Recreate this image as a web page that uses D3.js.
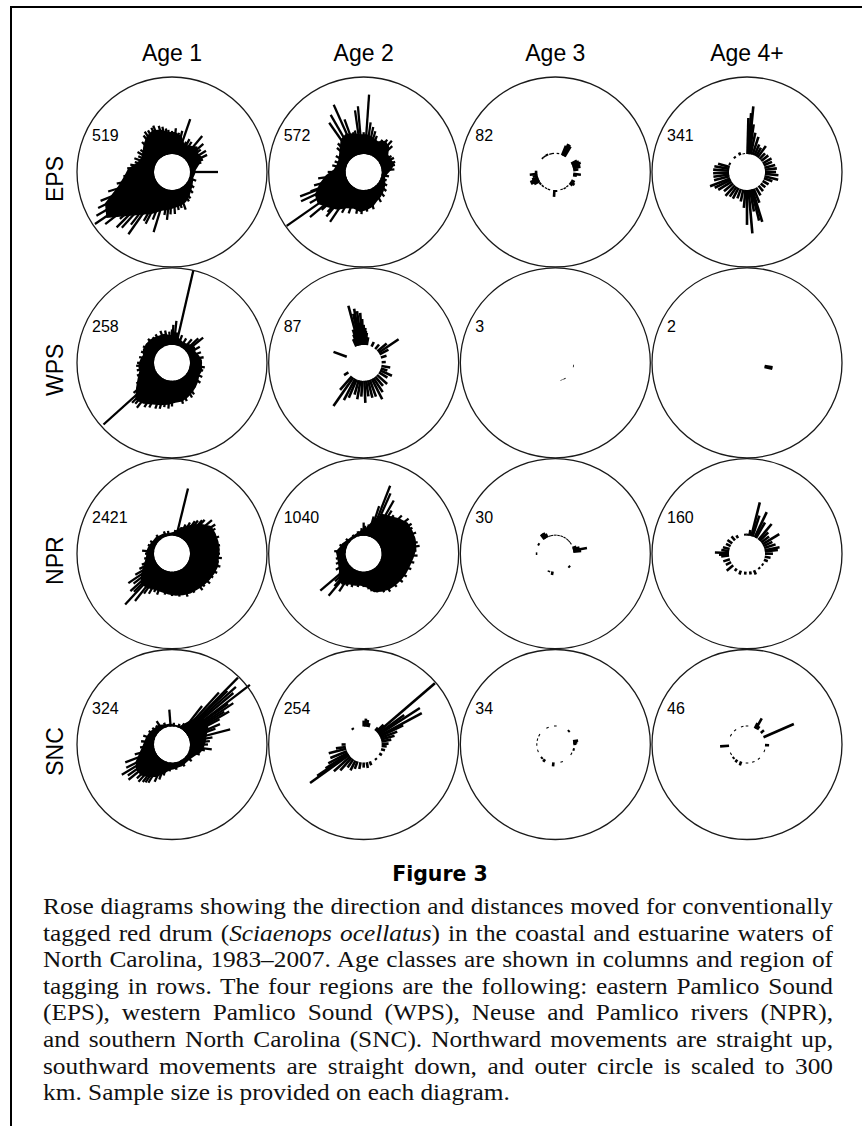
<!DOCTYPE html>
<html><head><meta charset="utf-8">
<script src="https://cdn.jsdelivr.net/npm/d3@7"></script>
<style>html,body{margin:0;padding:0;background:#fff}</style>
</head><body>
<svg id="chart" width="862" height="1126" xmlns="http://www.w3.org/2000/svg"></svg>
<script>
// ---------- categories ----------
const ages = ["Age 1", "Age 2", "Age 3", "Age 4+"];
const regions = ["EPS", "WPS", "NPR", "SNC"];
// sample sizes per region (Age 1, Age 2, Age 3, Age 4+)
const epsN = [519, 572, 82, 341];
const wpsN = [258, 87, 3, 2];
const nprN = [2421, 1040, 30, 160];
const sncN = [324, 254, 34, 46];

// ---------- dense cores: distance (km) reached by the solid mass in 10-degree direction bins (0-10, 10-20, ... clockwise from north)
const eps1Body = [86,74,47,55,70,55,62,39,23,20,16,20,27,35,47,59,66,70,78,86,109,133,172,242,218,148,117,101,70,62,70,86,101,109,101,86];
const eps2Body = [78,70,62,78,70,47,47,55,39,23,16,23,31,39,47,55,70,78,86,78,86,109,125,148,140,109,78,47,39,39,47,62,86,94,86,78];
const wps1Body = [39,31,23,23,31,39,31,39,47,47,51,47,55,62,70,78,86,86,94,101,109,125,133,101,78,62,62,55,47,55,55,55,51,47,47,39];
const npr1Body = [16,31,47,70,94,117,117,117,117,113,117,113,109,105,101,101,98,94,90,86,86,94,101,78,55,39,31,31,27,23,20,20,16,16,12,12];
const npr2Body = [31,62,101,109,125,140,140,140,136,125,117,113,109,105,101,94,86,62,55,59,62,78,70,47,39,35,35,39,27,23,16,12,12,12,16,23];
const snc1Body = [8,8,12,39,86,94,86,70,62,55,47,31,23,20,20,23,23,27,31,47,70,86,101,101,86,62,47,39,35,31,27,23,23,16,12,12];

// ---------- individual movements: [direction (deg clockwise from north), distance (km)]
const eps1Spikes = [[19,148],[40,113],[48,94],[58,86],[64,82],[90,109],[197,175],[215,226],[228,203],[236,292],[244,250],[207,156],[222,222],[186,117],[176,94],[160,86],[338,125],[344,117],[330,117],[352,101],[5,101],[290,86],[275,105],
  [355,95],[0,90],[10,85],[14,95],[25,60],[28,75],[33,70],[52,72],[68,60],[72,50],[110,30],[125,35],[135,45],[145,55],[150,62],[165,75],[170,80],[182,95],[190,100],[202,130],[210,150],[218,190],[225,235],[232,260],[240,270],[248,230],[253,190],[258,150],[265,120],[280,95],[285,80],[295,75],[300,85],[305,80],[315,95],[322,110],[326,120],[335,120],[348,110]];
const eps2Spikes = [[4,232],[355,187],[352,172],[336,217],[330,187],[325,164],[340,148],[8,125],[12,109],[36,86],[42,94],[214,164],[220,156],[235,296],[230,203],[245,199],[249,195],[240,172],[262,109],[200,101],[183,94],[72,59],[77,55],
  [0,85],[348,95],[345,90],[318,80],[312,70],[300,55],[290,50],[282,55],[270,70],[255,130],[250,150],[228,150],[222,140],[208,110],[190,95],[175,85],[165,80],[150,65],[140,55],[130,45],[120,35],[110,25],[100,30],[85,50],[65,60],[60,55],[48,80],[30,75],[20,80],[16,95]];
const eps3Spikes = [[22,40],[25,50],[28,50],[31,45],[62,25],[66,30],[70,35],[74,30],[78,30],[84,20],[96,30],[100,15],[118,15],[124,20],[128,15],[183,27],[178,8],[240,25],[244,35],[248,35],[252,25],[258,20],[264,30],[270,10],[318,6],[326,6],[334,8],[345,5],[352,5],[8,5],[140,5],[150,6],[160,4],[200,5],[210,5],[222,6],[232,8]];
const eps4Spikes = [[1.5,140],[4,160],[5.5,187],[8,117],[12,86],[18,74],[24,47],[30,39],[36,55],[44,31],[52,35],[61,39],[68,35],[76,43],[83,47],[90,43],[96,53],[104,55],[110,35],[120,27],[130,23],[140,27],[150,35],[158,59],[163,133],[166,125],[170,86],[175,170],[180,136],[185,70],[192,47],[200,39],[208,47],[215,47],[222,55],[230,47],[238,62],[244,70],[249,84],[256,62],[262,62],[268,62],[274,62],[280,59],[286,47],[295,8],[320,8],[338,12],[350,4]];
const wps1Spikes = [[13,300],[228,289],[6,94],[2,78],[348,59],[340,62],[323,55],[306,55],[270,66],[265,70],[218,152],[222,144],[212,133],[207,125],[184.5,109],[190,105],[173,78],[159,90],[150,86],[137,62],[104,55],[90,47],[51,86],[47,70],[60,55],[98,59],
  [0,60],[10,50],[20,45],[30,40],[40,50],[70,50],[80,55],[115,60],[125,65],[145,80],[165,95],[180,100],[195,115],[200,120],[225,150],[232,120],[240,90],[250,75],[258,70],[280,60],[290,58],[300,60],[315,62],[330,58],[355,52]];
const wps2Spikes = [[345,160],[348,125],[350,144],[352.7,133],[356,125],[358,101],[2.7,66],[6,47],[10,31],[340,47],[342,66],[354,86],[0,78],[4,55],[336,31],[26,20],[40,23],[50,47],[56,94],[62,39],[73,23],[88,16],[100,35],[108,27],[114.6,51],[122,39],[132,53],[140,47],[147,66],[153,89],[160,70],[166,70],[172,62],[177.6,86],[184,62],[190,74],[196,59],[203,78],[208,94],[215,135],[221,70],[238,20],[290,55]];
const wps3Spikes = [[100,3],[150,3],[160,2]];
const wps4Spikes = [[100,31],[103,31]];
const npr1Spikes = [[13.8,191],[44,113],[50,133],[56,133],[38,94],[30,70],[90,117],[113,121],[222.7,199],[218,164],[228,148],[236,135],[276,47],[8,23],
  [20,40],[25,55],[35,85],[42,105],[60,125],[65,115],[70,125],[80,120],[95,125],[100,115],[105,125],[120,115],[128,118],[135,110],[140,115],[150,105],[160,108],[170,100],[180,95],[190,92],[200,100],[205,95],[210,110],[215,120],[225,140],[232,120],[240,95],[245,70],[250,55],[260,40],[270,35],[290,30],[300,28],[320,25],[340,22],[350,20]];
const npr2Spikes = [[21.3,214],[24,187],[29.5,168],[18,125],[52,152],[0,51],[3,39],[219.8,143],[229.5,152],[213,105],[72.5,140],[86.7,136],
  [10,45],[15,80],[33,130],[38,120],[45,140],[58,150],[62,145],[68,150],[78,145],[82,150],[92,140],[100,130],[108,125],[118,120],[126,118],[135,112],[145,110],[152,100],[160,90],[168,80],[172,70],[180,60],[190,62],[200,68],[208,72],[222,100],[226,85],[240,55],[250,45],[260,40],[275,45],[290,30],[310,20],[330,15],[345,20],[355,30]];
const npr3Spikes = [[323,23],[326,23],[330,23],[334,16],[342,4],[350,4],[0,4],[10,4],[20,4],[30,4],[40,4],[48,4],[56,4],[72,16],[76,27],[80,55],[84,31],[299,8],[270,6],[133,8],[189,14],[200,6]];
const npr4Spikes = [[14,136],[18,86],[25.4,109],[30,70],[39.7,80],[45,47],[52,39],[58.7,77],[65,39],[72,47],[79,59],[83,51],[90,31],[100,23],[110,16],[8,23],[2,8],[355,8],[272,55],[268,39],[264,31],[278,31],[285,27],[295,20],[305,23],[318,20],[330,12],[252,27],[242,23],[230,33],[215,12],[200,16],[185,12],[170,12],[157,18],[140,8],[125,8]];
const snc1Spikes = [[44.6,296],[52.6,312],[48,265],[50,242],[56,218],[42,203],[60,187],[67,133],[75.5,164],[85,78],[97,86],[211.7,105],[222,125],[231,148],[239,158],[249,125],[276,51],[287,47],[326.7,39],[355.6,66],[320,27],
  [38,120],[46,230],[54,200],[58,170],[62,140],[70,110],[80,90],[90,70],[100,60],[110,45],[130,30],[150,28],[170,30],[185,35],[195,55],[200,75],[205,90],[215,110],[218,115],[226,120],[235,140],[243,130],[255,80],[265,55],[300,35],[310,30],[340,20],[5,15],[20,15],[30,25]];
const snc2Spikes = [[49.3,296],[57,191],[61.7,187],[54,125],[64,101],[69,70],[74,55],[80,39],[88,27],[95,20],[105,16],[120,12],[140,8],[160,16],[170,23],[180,20],[190,27],[200,31],[207,43],[215,39],[222,66],[228,86],[234.3,187],[236,148],[238,105],[242,86],[248,70],[256,70],[262,39],[270,16],[325,8],[0,23],[5,31],[10,27],[15,16],[45,39],[40,16]];
const snc3Spikes = [[45,8],[80,20],[84,16],[88,12],[105,8],[186,16],[215,12],[225,8],[0,4],[335,4],[300,4],[285,4],[270,4],[250,4],[120,4],[160,4]];
const snc4Spikes = [[66.4,129],[29.4,47],[26,23],[34,16],[50,16],[92,16],[110,4],[266,35],[199,16],[213,12],[225,8],[300,4],[320,4],[345,4],[0,4],[140,4],[160,4],[180,4],[240,4]];

// ---------- caption ----------
const figureTitle = "Figure 3";
const captionLines = [
  [["Rose diagrams showing the direction and distances moved for conventionally", false]],
  [["tagged red drum (", false], ["Sciaenops ocellatus", true], [") in the coastal and estuarine waters of", false]],
  [["North Carolina, 1983\u20132007. Age classes are shown in columns and region of", false]],
  [["tagging in rows. The four regions are the following: eastern Pamlico Sound", false]],
  [["(EPS), western Pamlico Sound (WPS), Neuse and Pamlico rivers (NPR),", false]],
  [["and southern North Carolina (SNC). Northward movements are straight up,", false]],
  [["southward movements are straight down, and outer circle is scaled to 300", false]],
  [["km. Sample size is provided on each diagram.", false]]
];

// ---------- assemble panels ----------
const nByRegion = {EPS: epsN, WPS: wpsN, NPR: nprN, SNC: sncN};
const bodies = {EPS: [eps1Body, eps2Body, null, null], WPS: [wps1Body, null, null, null], NPR: [npr1Body, npr2Body, null, null], SNC: [snc1Body, null, null, null]};
const spikes = {EPS: [eps1Spikes, eps2Spikes, eps3Spikes, eps4Spikes], WPS: [wps1Spikes, wps2Spikes, wps3Spikes, wps4Spikes], NPR: [npr1Spikes, npr2Spikes, npr3Spikes, npr4Spikes], SNC: [snc1Spikes, snc2Spikes, snc3Spikes, snc4Spikes]};
const panels = [];
regions.forEach(rg => ages.forEach((ag, j) => panels.push({region: rg, age: ag, n: nByRegion[rg][j], body: bodies[rg][j], spikes: spikes[rg][j]})));

// ---------- drawing ----------
const svg = d3.select("#chart");
const sansFont = "'Liberation Sans', Arial, Helvetica, sans-serif";

// partial frame (top and left edges)
svg.append("path").attr("d", "M10,7H862M11,6V1126").attr("stroke", "#000").attr("stroke-width", 2).attr("fill", "none");

const colX = d3.scalePoint().domain(ages).range([172, 747]);
const rowY = d3.scalePoint().domain(regions).range([172, 744.5]);
const R = 95, R0 = 18;
const radius = d3.scaleLinear().domain([0, 300]).range([R0, R]);
const angle = d3.scaleLinear().domain([0, 360]).range([0, 2 * Math.PI]);
const bodyLine = d3.lineRadial()
  .angle((d, i) => angle(i * 10 + 5))
  .radius(d => radius(d))
  .curve(d3.curveLinearClosed);

// column headings
svg.append("g").selectAll("text").data(ages).join("text")
  .attr("x", d => colX(d)).attr("y", 61)
  .attr("text-anchor", "middle")
  .attr("font-family", sansFont).attr("font-size", 23)
  .text(d => d);

// row labels
svg.append("g").selectAll("text").data(regions).join("text")
  .attr("transform", d => `translate(63,${rowY(d) + 7}) rotate(-90)`)
  .attr("text-anchor", "middle")
  .attr("font-family", sansFont).attr("font-size", 23)
  .text(d => d);

const pg = svg.append("g").selectAll("g").data(panels).join("g")
  .attr("transform", d => `translate(${colX(d.age)},${rowY(d.region)})`);

pg.each(function (p) {
  const g = d3.select(this);
  if (p.body) {
    g.append("path").attr("d", bodyLine(p.body)).attr("fill", "#000");
    g.append("circle").attr("r", R0).attr("fill", "#fff");
  }
  g.append("g").selectAll("line").data(p.spikes).join("line")
    .each(function (d) {
      const a = d3.pointRadial(angle(d[0]), R0);
      const b = d3.pointRadial(angle(d[0]), radius(d[1]));
      d3.select(this).attr("x1", a[0]).attr("y1", a[1]).attr("x2", b[0]).attr("y2", b[1]);
    })
    .attr("stroke", "#000").attr("stroke-width", p.body ? 2.3 : 2.6).attr("stroke-linecap", "butt");
  g.append("circle").attr("r", R).attr("fill", "none").attr("stroke", "#1a1a1a").attr("stroke-width", 1.3);
  g.append("text").attr("x", -80).attr("y", -31)
    .attr("font-family", sansFont).attr("font-size", 16)
    .text(p.n);
});

// figure title
svg.append("text").attr("x", 440).attr("y", 881).attr("text-anchor", "middle")
  .attr("font-family", "'DejaVu Sans', Verdana, sans-serif").attr("font-weight", "bold").attr("font-size", 20.5)
  .text(figureTitle);

// caption: wide serif (horizontally widened Liberation Serif), justified lines
const capX = 43, capW = 790, capY0 = 914, capDy = 26.6, capFs = 23.5;
const capG = svg.append("g").attr("font-family", "'Liberation Serif', 'Times New Roman', serif").attr("fill", "#111").attr("font-size", capFs);
const capTexts = captionLines.map((segs, i) => {
  const t = capG.append("text").attr("x", 0).attr("y", 0);
  segs.forEach(s => t.append("tspan").attr("font-style", s[1] ? "italic" : "normal").text(s[0]));
  return t;
});
let maxLen = 0;
capTexts.forEach((t, i) => { if (i < capTexts.length - 1) maxLen = Math.max(maxLen, t.node().getComputedTextLength()); });
const sx = (capW - 3) / maxLen;
capTexts.forEach((t, i) => {
  t.attr("transform", `translate(${capX},${capY0 + i * capDy}) scale(${sx},1)`);
  if (i < capTexts.length - 1) {
    const len = t.node().getComputedTextLength();
    const full = captionLines[i].map(s => s[0]).join("");
    const nSp = (full.match(/ /g) || []).length;
    t.style("word-spacing", ((capW / sx - len) / nSp) + "px");
  }
});
</script>
</body></html>
